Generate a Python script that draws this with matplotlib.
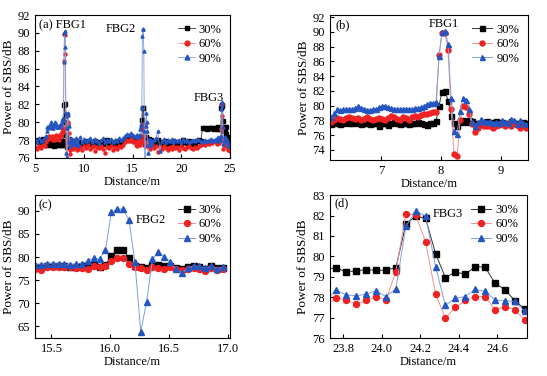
import numpy as np
import matplotlib
matplotlib.use('Agg')
import matplotlib.pyplot as plt

plt.rcParams['font.family'] = ['Liberation Serif', 'DejaVu Serif']
plt.rcParams['mathtext.fontset'] = 'stix'

# Serien: Leistung 30 %, 60 %, 90 %
labels = ['30%', '60%', '90%']

# (b) Bereich um FBG1, Abtastung 0.05 m
x_b = np.round(6.17 + 0.05 * np.arange(66), 3)
p30_b = [77.5, 77.8, 77.6, 77.5, 77.7, 77.8, 77.6, 77.7, 77.8, 77.6,
         77.5, 77.7, 77.6, 77.5, 77.7, 77.6, 77.3, 77.6, 77.7, 77.4,
         77.6, 77.8, 77.7, 77.5, 77.7, 77.6, 77.5, 77.7, 77.6, 77.8,
         77.7, 77.5, 77.4, 77.6, 77.7, 77.9, 80.0, 81.9, 82.0, 80.7,
         78.6, 77.7, 77.2, 77.8, 78.1, 77.8, 78.0, 77.9, 77.6, 77.5,
         77.7, 77.8, 77.9, 77.7, 77.8, 77.9, 77.7, 77.8, 77.6, 77.7,
         77.9, 77.7, 77.6, 77.7, 77.8, 77.6]
p60_b = [77.8, 78.0, 78.3, 78.2, 78.1, 78.3, 78.4, 78.3, 78.2, 78.3,
         78.1, 78.2, 78.5, 78.2, 78.0, 78.2, 78.3, 78.2, 78.0, 78.3,
         78.6, 78.4, 78.2, 78.1, 78.4, 78.3, 78.0, 78.4, 78.6, 78.5,
         78.7, 78.8, 78.9, 79.0, 79.1, 79.2, 86.9, 89.9, 89.8, 87.6,
         79.5, 73.4, 73.1, 78.0, 80.0, 79.8, 78.8, 77.5, 76.4, 76.9,
         77.6, 77.3, 77.2, 77.3, 77.0, 77.2, 77.4, 77.5, 77.3, 77.5,
         77.2, 77.6, 77.4, 76.9, 77.3, 77.0]
p90_b = [78.5, 79.0, 79.5, 79.4, 79.5, 79.5, 79.6, 79.5, 79.7, 80.0,
         79.7, 79.6, 79.4, 79.4, 79.6, 79.6, 79.8, 79.9, 80.0, 79.8,
         79.7, 79.5, 79.6, 79.5, 79.5, 79.6, 79.6, 79.5, 79.7, 79.7,
         79.8, 80.0, 80.2, 80.3, 80.4, 80.5, 86.7, 90.0, 90.2, 88.4,
         81.0, 76.6, 76.1, 79.3, 81.0, 80.8, 79.6, 77.8, 77.3, 77.8,
         78.2, 77.9, 77.8, 77.9, 77.6, 77.8, 77.7, 78.0, 77.8, 77.6,
         78.2, 78.1, 77.5, 78.0, 77.6, 77.5]

# (c) Bereich um FBG2
x_c = np.round(15.36 + 0.05 * np.arange(33), 3)
p30_c = [77.9, 77.8, 78.0, 78.0, 78.0, 78.0, 77.9, 77.9, 78.0, 78.0,
         78.3, 77.9, 78.3, 80.3, 81.6, 81.6, 79.7, 78.0, 77.8, 77.6,
         78.3, 78.3, 78.0, 78.0, 77.6, 77.5, 77.8, 78.1, 77.9, 77.5,
         78.0, 77.6, 77.6]
p60_c = [77.5, 77.3, 77.8, 77.8, 77.9, 77.9, 77.8, 77.7, 77.7, 77.5,
         78.0, 77.8, 78.0, 79.2, 79.7, 79.8, 78.5, 77.8, 77.6, 77.3,
         77.8, 77.6, 77.5, 77.8, 77.5, 77.2, 77.5, 77.6, 77.4, 77.0,
         77.6, 77.3, 77.4]
p90_c = [78.4, 78.3, 78.6, 78.6, 78.5, 78.5, 78.4, 78.5, 78.6, 79.2,
         79.8, 79.6, 81.6, 89.7, 90.4, 90.4, 88.0, 79.0, 63.9, 70.3,
         79.6, 81.0, 80.0, 79.0, 77.5, 76.5, 77.6, 78.1, 78.0, 77.7,
         78.0, 77.5, 77.8]

# (d) Bereich um FBG3
x_d = np.round(23.711 + 0.0517 * np.arange(21), 3)
p30_d = [79.4, 79.42, 79.25, 79.29, 79.35, 79.32, 79.32, 79.45, 81.57, 81.97,
         81.86, 80.13, 78.96, 79.24, 79.12, 79.5, 79.47, 78.68, 78.37, 77.82,
         77.43]
p60_d = [77.6, 77.98, 77.84, 77.67, 77.84, 78.03, 77.85, 79.25, 82.09, 82.02,
         80.72, 78.15, 76.98, 77.5, 77.84, 78.03, 78.03, 77.38, 77.54, 77.38,
         76.88]
p90_d = [77.9, 78.34, 78.11, 78.07, 78.15, 78.31, 78.03, 78.41, 81.47, 82.22,
         81.97, 79.5, 77.6, 77.95, 78.03, 78.39, 78.28, 77.87, 77.82, 77.79,
         77.3]

# (a) restliche Faserabschnitte, Abtastung 0.2 m
x_s1 = np.round(5.0 + 0.2 * np.arange(6), 2)
p30_s1 = [77.9, 78.0, 77.8, 77.9, 78.1, 77.8]
p60_s1 = [77.2, 77.0, 77.3, 77.1, 77.4, 77.3]
p90_s1 = [78.1, 77.8, 78.2, 77.9, 78.0, 78.3]

x_s2 = np.round(9.6 + 0.2 * np.arange(29), 2)
p30_s2 = [77.7, 77.8, 77.6, 77.9, 77.7, 77.6, 77.8, 77.7, 77.9, 77.6,
          77.8, 77.7, 77.6, 77.8, 78.0, 77.7, 77.6, 77.8, 77.7, 77.9,
          77.6, 77.8, 77.9, 78.0, 78.1, 78.0, 78.2, 78.0, 78.1]
p60_s2 = [77.2, 76.9, 77.3, 77.1, 77.4, 77.0, 77.2, 77.3, 76.8, 77.2,
          77.1, 77.3, 77.0, 76.6, 77.2, 77.1, 77.3, 76.9, 77.2, 77.0,
          77.3, 77.2, 77.4, 77.8, 78.0, 77.9, 78.1, 77.8, 77.9]
p90_s2 = [78.3, 77.8, 78.1, 77.9, 78.0, 78.2, 77.8, 78.0, 78.1, 77.9,
          77.7, 78.0, 78.2, 77.8, 78.0, 77.9, 78.1, 77.8, 78.0, 77.9,
          78.2, 78.0, 78.2, 78.5, 78.7, 78.6, 78.8, 78.6, 78.5]

x_s3 = np.round(17.2 + 0.2 * np.arange(33), 2)
p30_s3 = [77.8, 77.7, 78.0, 77.6, 77.8, 77.7, 77.9, 77.6, 77.8, 77.7,
          77.9, 77.6, 77.8, 77.7, 77.6, 78.0, 77.8, 77.7, 77.9, 77.6,
          77.8, 77.7, 77.9, 78.0, 77.9, 79.4, 79.3, 79.2, 79.3, 79.4,
          79.3, 79.2, 79.3]
p60_s3 = [77.1, 77.3, 76.7, 77.2, 77.0, 77.3, 77.1, 76.9, 77.2, 77.0,
          77.3, 77.1, 77.2, 76.9, 77.3, 77.1, 77.0, 77.2, 77.3, 77.1,
          77.0, 77.2, 77.1, 77.3, 77.4, 77.6, 77.5, 77.7, 77.6, 77.8,
          77.7, 77.9, 77.8]
p90_s3 = [78.0, 78.2, 79.0, 76.8, 77.9, 78.1, 77.8, 78.0, 77.9, 78.1,
          77.8, 78.0, 77.9, 78.0, 77.8, 78.1, 77.9, 78.0, 77.8, 77.9,
          78.0, 77.9, 78.1, 78.0, 77.9, 77.8, 78.0, 77.9, 78.0, 78.1,
          77.9, 78.0, 78.1]

x_s4 = [24.8, 25.0]
p30_s4 = [77.5, 77.4]
p60_s4 = [77.0, 76.8]
p90_s4 = [77.8, 77.6]

# gesamte Faser fuer (a)
x_a = np.concatenate([x_s1, x_b, x_s2, x_c, x_s3, x_d, x_s4])
p30_a = np.concatenate([p30_s1, p30_b, p30_s2, p30_c, p30_s3, p30_d, p30_s4])
p60_a = np.concatenate([p60_s1, p60_b, p60_s2, p60_c, p60_s3, p60_d, p60_s4])
p90_a = np.concatenate([p90_s1, p90_b, p90_s2, p90_c, p90_s3, p90_d, p90_s4])

markers = ['s', 'o', '^']
mcolors = ['#000000', '#ee2222', '#2455c0']
lcolors = ['#333333', '#f49090', '#7f9ee0']


def draw(ax, x, series, ms, lw):
    for y, m, mc, lc, lab in zip(series, markers, mcolors, lcolors, labels):
        ax.plot(x, y, marker=m, ms=ms, color=lc, mfc=mc, mec=mc, lw=lw, label=lab)
    ax.tick_params(direction='in', length=3, labelsize=9, top=False, right=False)
    ax.set_xlabel('Distance/m', fontsize=9, labelpad=1)
    ax.set_ylabel('Power of SBS/dB', fontsize=9.5, labelpad=2)


fig = plt.figure(figsize=(5.47, 3.76), dpi=100)

# (a)
ax = fig.add_axes([0.064, 0.580, 0.3565, 0.380])
draw(ax, x_a, [p30_a, p60_a, p90_a], 2.2, 0.6)
ax.set_xlim(5, 25)
ax.set_ylim(76, 92)
ax.set_xticks([5, 10, 15, 20, 25])
ax.set_yticks(np.arange(76, 93, 2))
ax.legend(loc='upper right', frameon=False, fontsize=9, handlelength=1.3,
          handletextpad=0.3, labelspacing=0.2, borderaxespad=0.3, markerscale=1.6)
ax.text(0.02, 0.93, '(a) FBG1', transform=ax.transAxes, fontsize=9, va='center')
ax.text(0.44, 0.90, 'FBG2', transform=ax.transAxes, fontsize=9, va='center', ha='center')
ax.text(0.89, 0.42, 'FBG3', transform=ax.transAxes, fontsize=9, va='center', ha='center')

# (b)
ax = fig.add_axes([0.603, 0.574, 0.362, 0.386])
draw(ax, x_b, [p30_b, p60_b, p90_b], 3.6, 0.7)
ax.set_xlim(6.15, 9.45)
ax.set_ylim(72.6, 92.3)
ax.set_xticks([7, 8, 9])
ax.set_yticks(np.arange(74, 93, 2))
ax.legend(loc='upper right', frameon=False, fontsize=9, handlelength=1.6,
          handletextpad=0.3, labelspacing=0.2, borderaxespad=0.3)
ax.text(0.03, 0.93, '(b)', transform=ax.transAxes, fontsize=9, va='center')
ax.text(0.576, 0.94, 'FBG1', transform=ax.transAxes, fontsize=9, va='center', ha='center')

# (c)
ax = fig.add_axes([0.064, 0.101, 0.3565, 0.380])
draw(ax, x_c, [p30_c, p60_c, p90_c], 4.3, 0.7)
ax.set_xlim(15.36, 17.02)
ax.set_ylim(62.5, 93.4)
ax.set_xticks([15.5, 16.0, 16.5, 17.0])
ax.set_xticklabels(['15.5', '16.0', '16.5', '17.0'])
ax.set_yticks([65, 70, 75, 80, 85, 90])
ax.legend(loc='upper right', frameon=False, fontsize=9, handlelength=1.3,
          handletextpad=0.3, labelspacing=0.2, borderaxespad=0.3)
ax.text(0.02, 0.93, '(c)', transform=ax.transAxes, fontsize=9, va='center')
ax.text(0.595, 0.825, 'FBG2', transform=ax.transAxes, fontsize=9, va='center', ha='center')

# (d)
ax = fig.add_axes([0.603, 0.101, 0.360, 0.380])
draw(ax, x_d, [p30_d, p60_d, p90_d], 4.3, 0.7)
ax.set_xlim(23.729, 24.755)
ax.set_ylim(76, 83)
ax.set_xticks([23.8, 24.0, 24.2, 24.4, 24.6])
ax.set_xticklabels(['23.8', '24.0', '24.2', '24.4', '24.6'])
ax.set_yticks(np.arange(76, 84, 1))
ax.legend(loc='upper right', frameon=False, fontsize=9, handlelength=1.6,
          handletextpad=0.3, labelspacing=0.2, borderaxespad=0.3)
ax.text(0.025, 0.944, '(d)', transform=ax.transAxes, fontsize=9, va='center')
ax.text(0.60, 0.867, 'FBG3', transform=ax.transAxes, fontsize=9, va='center', ha='center')

fig.savefig('out.png', dpi=100)
